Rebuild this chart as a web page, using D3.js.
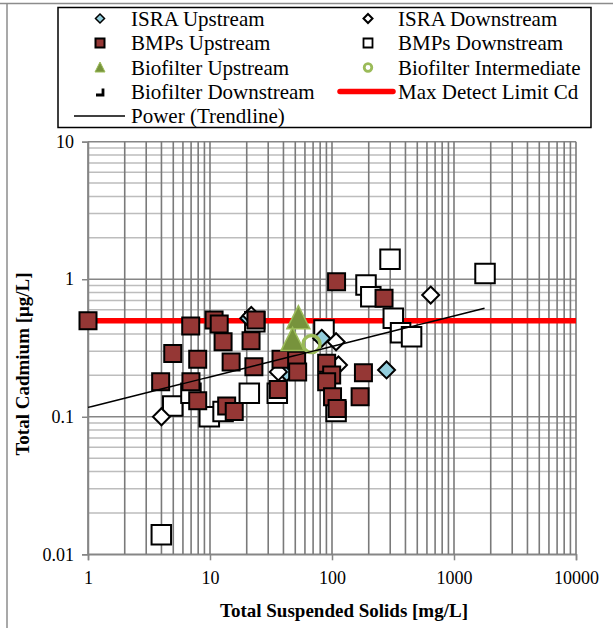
<!DOCTYPE html>
<html><head><meta charset="utf-8">
<script src="https://cdn.jsdelivr.net/npm/d3@7"></script>
<style>body{margin:0;background:#fff}svg{display:block}</style>
</head><body>
<svg id="c" width="613" height="628"></svg>
<script>
// ---- data ----
const israUpX = [20.8, 42.5, 82.3, 280];
const israUpY = [0.52, 0.21, 0.372, 0.219];
const israDownX = [4, 21.8, 36.3, 108, 113, 644];
const israDownY = [0.1, 0.545, 0.212, 0.351, 0.238, 0.767];
const bmpUpX = [1, 6.95, 10.8, 11.9, 23.8, 12.8, 21.7, 4.95, 7.93, 14.9, 22.9, 38.2, 51.3, 52.3, 3.94, 6.98, 7.93, 13.7, 15.8, 36.3, 109, 267, 90.4, 99.4, 90.4, 181, 170, 101, 110];
const bmpUpY = [0.5, 0.457, 0.505, 0.472, 0.505, 0.351, 0.357, 0.289, 0.262, 0.25, 0.231, 0.262, 0.258, 0.212, 0.18, 0.18, 0.131, 0.12, 0.109, 0.158, 0.96, 0.726, 0.245, 0.201, 0.18, 0.209, 0.14, 0.14, 0.115];
const bmpDownX = [4.95, 6.98, 9.87, 12.8, 21.0, 35.6, 23.3, 3.99, 299, 190, 208, 318, 365, 449, 1796, 86, 108];
const bmpDownY = [0.12, 0.148, 0.1, 0.109, 0.148, 0.148, 0.49, 0.0139, 1.4, 0.907, 0.746, 0.52, 0.408, 0.382, 1.1, 0.427, 0.109];
const bioUpX = [53, 47.5];
const bioUpY = [0.52, 0.361];
const bioIntX = [68];
const bioIntY = [0.338];
const bioDownX = [];
const bioDownY = [];
const detectLimitX = [1, 10000];
const detectLimitY = [0.5, 0.5];
const trendA = 0.117, trendB = 0.2217, trendXRange = [1, 1780];
const xTicks = [1, 10, 100, 1000, 10000];
const yTicks = [0.01, 0.1, 1, 10];
const legendLabels = ["ISRA Upstream","ISRA Downstream","BMPs Upstream","BMPs Downstream","Biofilter Upstream","Biofilter Intermediate","Biofilter Downstream","Max Detect Limit Cd","Power (Trendline)"];

// ---- chart ----
const svg = d3.select("#c");
const font = "'Liberation Serif','Times New Roman',serif";
svg.append("line").attr("x1",0).attr("x2",613).attr("y1",3.5).attr("y2",3.5).attr("stroke","#8c8c8c").attr("stroke-width",1.5);
svg.append("line").attr("x1",7).attr("x2",7).attr("y1",3).attr("y2",628).attr("stroke","#8c8c8c").attr("stroke-width",1.5);

const x = d3.scaleLog().domain([1,10000]).range([88,576]);
const y = d3.scaleLog().domain([0.01,10]).range([554.3,141.7]);

const g = svg.append("g");
// grid
const xGrid = [], yGrid = [];
for (let d=1; d<10000; d*=10) for (let k=1;k<=9;k++) xGrid.push({v:d*k, major:k===1});
xGrid.push({v:10000, major:true});
for (let d=0.01; d<9; d*=10) for (let k=1;k<=9;k++) yGrid.push({v:+(d*k).toPrecision(3), major:k===1});
yGrid.push({v:10, major:true});
g.selectAll(".hg").data(yGrid).join("line")
  .attr("x1",x(1)).attr("x2",x(10000))
  .attr("y1",d=>y(d.v)).attr("y2",d=>y(d.v))
  .attr("stroke",d=>d.major?"#868686":"#bdbdbd").attr("stroke-width",1.5);
g.selectAll(".vg").data(xGrid).join("line")
  .attr("x1",d=>x(d.v)).attr("x2",d=>x(d.v))
  .attr("y1",y(10)).attr("y2",y(0.01))
  .attr("stroke","#7a7a7a").attr("stroke-width",1.6);

// axes
const xAxis = d3.axisBottom(x).tickValues(xTicks).tickFormat(d3.format("d")).tickSize(6).tickPadding(8);
const yAxis = d3.axisLeft(y).tickValues(yTicks).tickFormat(d=>String(d)).tickSize(6).tickPadding(8);
const xa = svg.append("g").attr("transform",`translate(0,${y(0.01)})`).call(xAxis);
const ya = svg.append("g").attr("transform",`translate(${x(1)},0)`).call(yAxis);
[xa,ya].forEach(a=>{
  a.select(".domain").attr("stroke","#868686").attr("stroke-width",1.5);
  a.selectAll(".tick line").attr("stroke","#868686").attr("stroke-width",1.5);
  a.selectAll("text").attr("font-family",font).attr("font-size",18).attr("fill","#000");
});
xa.selectAll("text").attr("dy","0.9em");

// titles
svg.append("text").attr("x",344).attr("y",617).attr("text-anchor","middle")
  .attr("font-family",font).attr("font-weight","bold").attr("font-size",19).text("Total Suspended Solids [mg/L]");
svg.append("text").attr("transform","translate(29,364) rotate(-90)").attr("text-anchor","middle")
  .attr("font-family",font).attr("font-weight","bold").attr("font-size",19).text("Total Cadmium [μg/L]");

// detect limit line
const lineGen = d3.line().x(d=>x(d[0])).y(d=>y(d[1]));
svg.append("path").datum(detectLimitX.map((v,i)=>[v,detectLimitY[i]]))
  .attr("d",lineGen).attr("stroke","#ff0000").attr("stroke-width",5.5).attr("fill","none");

const pts = (X,Y)=>X.map((v,i)=>[v,Y[i]]);
const sq = s=>`M${-s/2},${-s/2}h${s}v${s}h${-s}Z`;
const dia = s=>`M0,${-s/2}L${s/2},0L0,${s/2}L${-s/2},0Z`;
const tri = s=>`M0,${-s*0.55}L${s/2},${s*0.45}L${-s/2},${s*0.45}Z`;

function series(data, path, fill, stroke, sw){
  svg.append("g").selectAll("path").data(data).join("path")
    .attr("transform",d=>`translate(${x(d[0])},${y(d[1])})`)
    .attr("d",path).attr("fill",fill).attr("stroke",stroke).attr("stroke-width",sw);
}
series(pts(bmpDownX,bmpDownY), sq(19.5), "#fff", "#000", 2);
series(pts(israUpX,israUpY), dia(17), "#92cddc", "#000", 2);
series(pts(israDownX,israDownY), dia(17), "#fff", "#000", 2);
series(pts(bmpUpX,bmpUpY), sq(17), "#953735", "#000", 2);
series(pts(bioUpX,bioUpY), tri(23), "#77933c", "#9bbb59", 1.5);
svg.append("g").selectAll("circle").data(pts(bioIntX,bioIntY)).join("circle")
  .attr("cx",d=>x(d[0])).attr("cy",d=>y(d[1])).attr("r",8.5)
  .attr("fill","none").attr("stroke","#9bbb59").attr("stroke-width",3.5);
series(pts(bioDownX,bioDownY), "M-4,4H3V-4", "none", "#000", 2.5);

// trendline
const tx = d3.range(0,101).map(i=>trendXRange[0]*Math.pow(trendXRange[1]/trendXRange[0], i/100));
svg.append("path").datum(tx.map(v=>[v, trendA*Math.pow(v,trendB)]))
  .attr("d",lineGen).attr("stroke","#000").attr("stroke-width",1.5).attr("fill","none");

// legend
const lg = svg.append("g");
lg.append("rect").attr("x",58).attr("y",7.5).attr("width",533).attr("height",120)
  .attr("fill","#fff").attr("stroke","#000").attr("stroke-width",1.5);
const rowsY = [18.5,43,67.5,91.5,116];
const colMx = [100,368], colTx = [131,398];
const items = [
  {c:0,r:0,draw:(s)=>s.append("path").attr("d",dia(9)).attr("fill","#92cddc").attr("stroke","#000").attr("stroke-width",1.5)},
  {c:1,r:0,draw:(s)=>s.append("path").attr("d",dia(9)).attr("fill","#fff").attr("stroke","#000").attr("stroke-width",2)},
  {c:0,r:1,draw:(s)=>s.append("path").attr("d",sq(9)).attr("fill","#953735").attr("stroke","#000").attr("stroke-width",2)},
  {c:1,r:1,draw:(s)=>s.append("path").attr("d",sq(9)).attr("fill","#fff").attr("stroke","#000").attr("stroke-width",1.8)},
  {c:0,r:2,draw:(s)=>s.append("path").attr("d",tri(10)).attr("fill","#77933c").attr("stroke","#9bbb59").attr("stroke-width",1)},
  {c:1,r:2,draw:(s)=>s.append("circle").attr("r",3.8).attr("fill","none").attr("stroke","#9bbb59").attr("stroke-width",2.8)},
  {c:0,r:3,draw:(s)=>s.append("path").attr("d","M-4,3.5H3V-3").attr("fill","none").attr("stroke","#000").attr("stroke-width",2.8)},
  {c:1,r:3,draw:(s)=>s.append("line").attr("x1",-28).attr("x2",25).attr("stroke","#ff0000").attr("stroke-width",5.5).attr("stroke-linecap","round")},
  {c:0,r:4,draw:(s)=>s.append("line").attr("x1",-26).attr("x2",25).attr("stroke","#000").attr("stroke-width",1.5)},
];
items.forEach((it,i)=>{
  const s = lg.append("g").attr("transform",`translate(${colMx[it.c]},${rowsY[it.r]})`);
  it.draw(s);
  lg.append("text").attr("x",colTx[it.c]).attr("y",rowsY[it.r]).attr("dy","0.35em")
    .attr("font-family",font).attr("font-size",21).text(legendLabels[i]);
});
</script>
</body></html>
